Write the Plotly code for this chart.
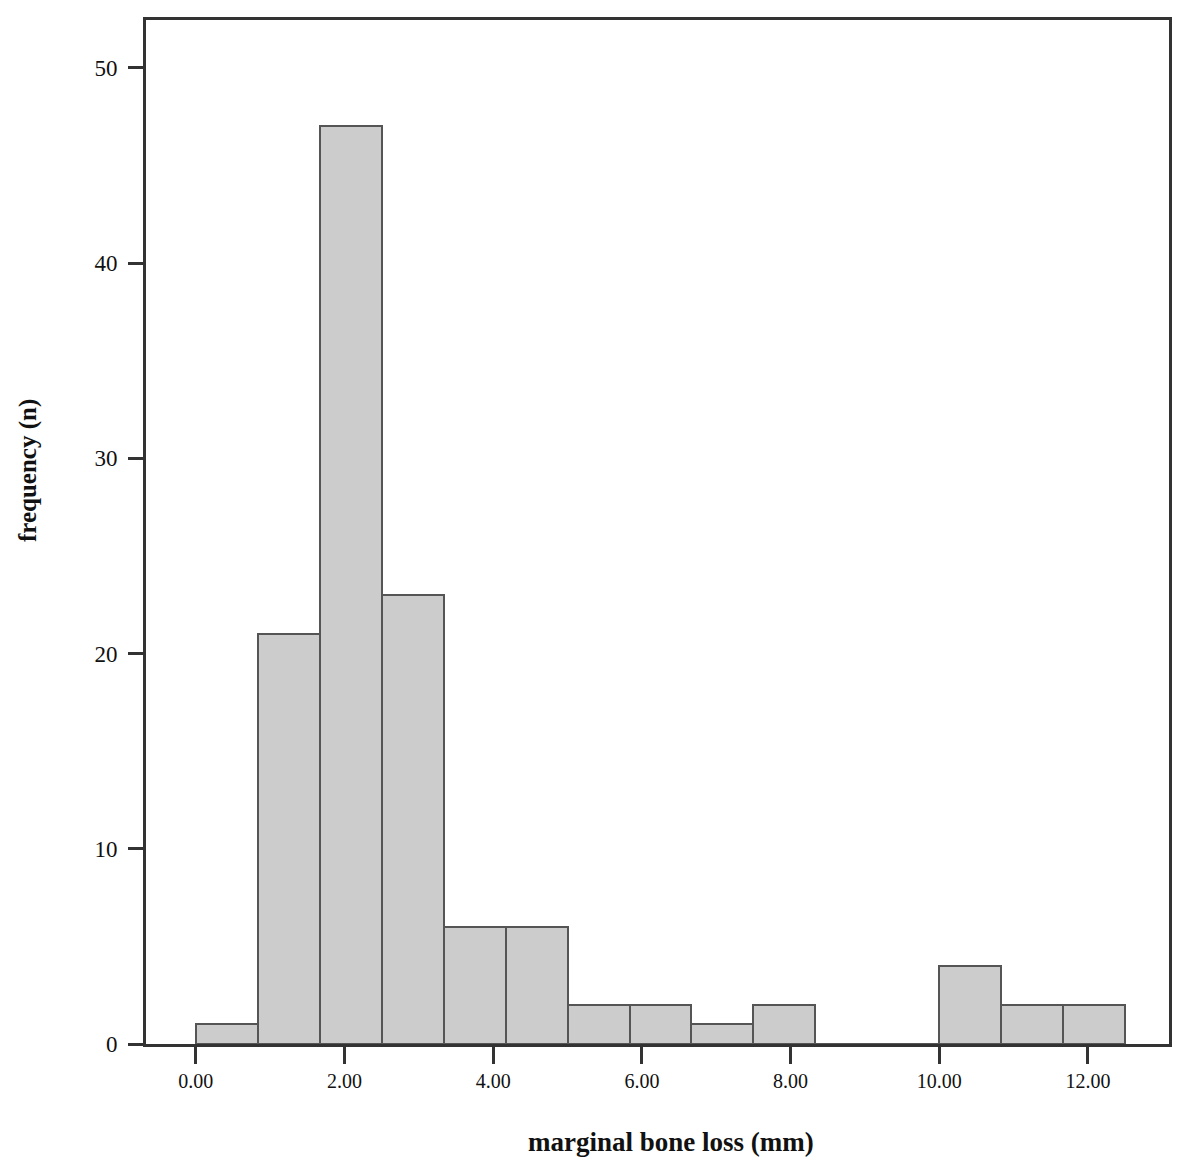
import plotly.graph_objects as go

# Histogram data (SPSS-style bins)
bin_start = 0.0
bin_width = 5.0 / 6.0
counts = [1, 21, 47, 23, 6, 6, 2, 2, 1, 2, 0, 0, 4, 2, 2]
x_tick_vals = [0, 2, 4, 6, 8, 10, 12]
x_tick_text = ["0.00", "2.00", "4.00", "6.00", "8.00", "10.00", "12.00"]
y_tick_vals = [0, 10, 20, 30, 40, 50]
x_title = "marginal bone loss (mm)"
y_title = "frequency (n)"

centers = [bin_start + bin_width * (i + 0.5) for i in range(len(counts))]

fig = go.Figure()
fig.add_trace(go.Bar(
    x=centers, y=counts, width=bin_width,
    marker=dict(color="#cccccc", line=dict(color="#555555", width=2)),
    showlegend=False,
))

serif = "Liberation Serif, Times New Roman, serif"
fig.update_layout(
    width=1195, height=1165,
    paper_bgcolor="white", plot_bgcolor="white",
    margin=dict(l=138, r=34, t=9, b=129),
    bargap=0,
    xaxis=dict(
        range=[-0.67, 13.09], tickvals=x_tick_vals, ticktext=x_tick_text,
        ticks="outside", ticklen=17, tickwidth=3, tickcolor="#333333",
        showline=True, linecolor="#333333", linewidth=3, mirror=True,
        showgrid=False, zeroline=False,
        tickfont=dict(family=serif, size=20, color="#111111"),
    ),
    yaxis=dict(
        range=[0, 52.45], tickvals=y_tick_vals,
        ticks="outside", ticklen=15, tickwidth=3, tickcolor="#333333",
        ticklabelstandoff=6,
        showline=True, linecolor="#333333", linewidth=3, mirror=True,
        showgrid=False, zeroline=False,
        tickfont=dict(family=serif, size=23, color="#111111"),
    ),
    annotations=[
        dict(text="<b>" + x_title + "</b>", xref="paper", yref="paper",
             x=0, y=0, xanchor="center", yanchor="middle",
             xshift=525, yshift=-98, showarrow=False,
             font=dict(family=serif, size=27, color="#111111")),
        dict(text="<b>" + y_title + "</b>", xref="paper", yref="paper",
             x=0, y=0, xanchor="center", yanchor="middle", textangle=-90,
             xshift=-118, yshift=573, showarrow=False,
             font=dict(family=serif, size=25, color="#111111")),
    ],
)

fig.write_html("out.html")
